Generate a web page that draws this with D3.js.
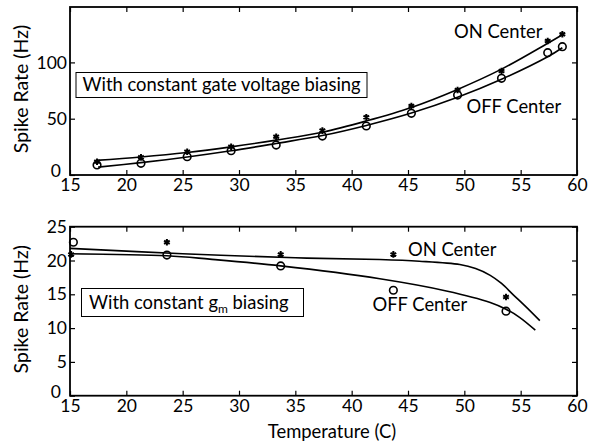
<!DOCTYPE html>
<html>
<head>
<meta charset="utf-8">
<script src="https://cdn.jsdelivr.net/npm/d3@7"></script>
<style>
  body { margin: 0; background: #fff; }
  svg text { font-family: Lato, "Open Sans", sans-serif; fill: #000; }
</style>
</head>
<body>
<div id="app"></div>
<script>
// top panel: constant gate voltage biasing
const topOnTemp = [17.4, 21.3, 25.4, 29.3, 33.3, 37.4, 41.3, 45.3, 49.4, 53.3, 57.4, 58.7];
const topOnRate = [11.8, 15.7, 20.7, 25.1, 34.0, 39.4, 51.2, 61.3, 75.5, 92.4, 119, 125];
const topOffTemp = [17.4, 21.3, 25.4, 29.3, 33.3, 37.4, 41.3, 45.3, 49.4, 53.3, 57.4, 58.7];
const topOffRate = [8.9, 10.4, 16.3, 21.6, 26.6, 34.6, 43.5, 54.8, 71.0, 85.9, 108.6, 114];
// fitted curves
const topOnFitTemp = [17.3, 21.3, 25.4, 29.3, 33.3, 37.4, 41.3, 45.3, 49.4, 53.3, 57.4, 58.7];
const topOnFitRate = [13, 16, 20, 25, 31, 38, 48, 60, 76, 94, 117, 124.5];
const topOffFitTemp = [17.5, 21.3, 25.4, 29.3, 33.3, 37.4, 41.3, 45.3, 49.4, 53.3, 57.4, 58.7];
const topOffFitRate = [7, 11, 16, 21.5, 28, 35, 44, 55, 69, 85, 105, 113];

// bottom panel: constant gm biasing
const botOnTemp = [15.1, 23.6, 33.7, 43.7, 53.7];
const botOnRate = [20.9, 22.7, 20.9, 20.9, 14.6];
const botOffTemp = [15.3, 23.6, 33.7, 43.7, 53.7];
const botOffRate = [22.7, 20.8, 19.2, 15.6, 12.5];
const botOnFitTemp = [15, 25, 35, 42.5, 46, 49.6, 51, 52.3, 53.3, 54.3, 55.5, 56.7];
const botOnFitRate = [21.8, 21.0, 20.4, 20.15, 19.9, 19.4, 18.8, 17.8, 16.6, 15.0, 13.1, 11.1];
const botOffFitTemp = [15, 23.6, 27.4, 33.7, 42.5, 48.4, 52.3, 53.7, 54.9, 56.3];
const botOffFitRate = [21.0, 20.7, 20.2, 19.2, 17.3, 15.5, 13.8, 12.8, 11.6, 9.7];

const xTicks = [15, 20, 25, 30, 35, 40, 45, 50, 55, 60];
const topYTicks = [0, 50, 100];
const botYTicks = [0, 5, 10, 15, 20, 25];

const zip = (xs, ys) => xs.map((x, i) => ({ x: x, y: ys[i] }));

const svg = d3.select('#app').append('svg')
  .attr('width', 599).attr('height', 445);

const left = 70, right = 577;
const x = d3.scaleLinear().domain([15, 60]).range([left, right]);
const labelSize = 18.4;

function panel(cfg) {
  const y = d3.scaleLinear().domain(cfg.yDomain).range([cfg.bottom, cfg.top]);
  const g = svg.append('g');

  // tick marks pointing inward on all four sides
  const tl = 5;
  g.append('g').attr('transform', `translate(0,${cfg.bottom})`)
    .call(d3.axisBottom(x).tickValues(xTicks).tickSize(-tl).tickPadding(4).tickFormat(d3.format('d')))
    .call(a => a.select('.domain').remove());
  g.append('g').attr('transform', `translate(0,${cfg.top})`)
    .call(d3.axisTop(x).tickValues(xTicks).tickSize(-tl).tickFormat(''))
    .call(a => a.select('.domain').remove());
  g.append('g').attr('transform', `translate(${left},0)`)
    .call(d3.axisLeft(y).tickValues(cfg.yTicks).tickSize(-tl).tickPadding(3))
    .call(a => a.select('.domain').remove())
    .selectAll('.tick text').filter(d => d === 0).attr('dy', '0.1em').attr('x', -9);
  g.append('g').attr('transform', `translate(${right},0)`)
    .call(d3.axisRight(y).tickValues(cfg.yTicks).tickSize(-tl).tickFormat(''))
    .call(a => a.select('.domain').remove());
  g.selectAll('.tick text').attr('font-size', 17.5).attr('font-family', 'Lato, sans-serif');
  g.selectAll('.tick line').attr('stroke', '#000').attr('stroke-width', 1.2);

  g.append('rect')
    .attr('x', left).attr('y', cfg.top)
    .attr('width', right - left).attr('height', cfg.bottom - cfg.top)
    .attr('fill', 'none').attr('stroke', '#000').attr('stroke-width', 1.8);

  const line = d3.line().x(d => x(d.x)).y(d => y(d.y)).curve(d3.curveCatmullRom);
  cfg.fits.forEach(f => {
    g.append('path').datum(f).attr('d', line)
      .attr('fill', 'none').attr('stroke', '#000').attr('stroke-width', 1.6);
  });

  // circles (OFF center)
  g.selectAll('.off').data(cfg.off).join('circle')
    .attr('class', 'off')
    .attr('cx', d => x(d.x)).attr('cy', d => y(d.y)).attr('r', 3.8)
    .attr('fill', 'none').attr('stroke', '#000').attr('stroke-width', 1.6);

  // stars (ON center)
  const star = d3.symbol().type(d3.symbolAsterisk).size(30);
  g.selectAll('.on').data(cfg.on).join('path')
    .attr('class', 'on')
    .attr('transform', d => `translate(${x(d.x)},${y(d.y)})`)
    .attr('d', star)
    .attr('fill', 'none').attr('stroke', '#000').attr('stroke-width', 2);

  // y axis title
  g.append('text')
    .attr('transform', `translate(28,${(cfg.top + cfg.bottom) / 2 - 2}) rotate(-90)`)
    .attr('text-anchor', 'middle').attr('font-size', 19.5)
    .text('Spike Rate (Hz)');

  return { g, y };
}

// top panel
const p1 = panel({
  top: 7, bottom: 175, yDomain: [0, 149.2], yTicks: topYTicks,
  on: zip(topOnTemp, topOnRate), off: zip(topOffTemp, topOffRate),
  fits: [zip(topOnFitTemp, topOnFitRate), zip(topOffFitTemp, topOffFitRate)]
});
p1.g.append('rect').attr('x', 76).attr('y', 72.5).attr('width', 291).attr('height', 25)
  .attr('fill', '#fff').attr('stroke', '#000').attr('stroke-width', 1);
p1.g.append('text').attr('x', 82.5).attr('y', 91).attr('font-size', labelSize)
  .text('With constant gate voltage biasing');
p1.g.append('text').attr('x', 454).attr('y', 38).attr('font-size', labelSize).text('ON Center');
p1.g.append('text').attr('x', 466.5).attr('y', 112.5).attr('font-size', labelSize).text('OFF Center');

// bottom panel
const p2 = panel({
  top: 226.7, bottom: 395.7, yDomain: [0, 25], yTicks: botYTicks,
  on: zip(botOnTemp, botOnRate), off: zip(botOffTemp, botOffRate),
  fits: [zip(botOnFitTemp, botOnFitRate), zip(botOffFitTemp, botOffFitRate)]
});
p2.g.append('rect').attr('x', 81.5).attr('y', 288.5).attr('width', 222).attr('height', 28)
  .attr('fill', '#fff').attr('stroke', '#000').attr('stroke-width', 1);
const boxText = p2.g.append('text').attr('x', 89).attr('y', 308.5).attr('font-size', labelSize);
boxText.append('tspan').text('With constant g');
boxText.append('tspan').attr('font-size', 12).attr('dy', 4).text('m');
boxText.append('tspan').attr('dy', -4).text(' biasing');
p2.g.append('text').attr('x', 408).attr('y', 255.5).attr('font-size', labelSize).text('ON Center');
p2.g.append('text').attr('x', 372.5).attr('y', 310.5).attr('font-size', labelSize).text('OFF Center');

svg.append('text').attr('x', 332).attr('y', 438).attr('text-anchor', 'middle')
  .attr('font-size', labelSize).text('Temperature (C)');
</script>
</body>
</html>
